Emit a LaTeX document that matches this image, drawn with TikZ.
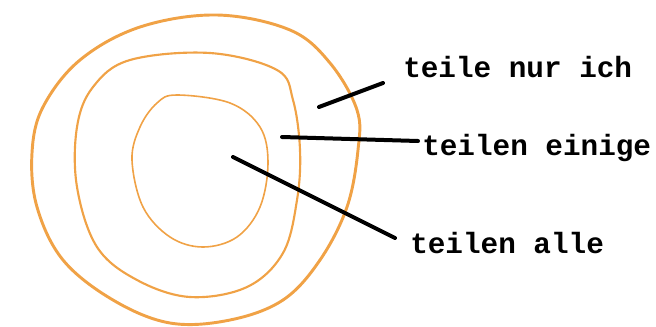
\documentclass[tikz,border=0pt]{standalone}
\usepackage{fontspec}
\newfontfamily\tw{Liberation Mono}
\definecolor{ring}{RGB}{240,162,70}
\begin{document}
\begin{tikzpicture}[x=0.75pt,y=-0.75pt,
  ringline/.style={draw=ring, line cap=round, line join=round},
  pointer/.style={draw=black, line width=3pt, line cap=round},
  lbl/.style={anchor=base west, inner sep=0pt, font=\tw\bfseries\fontsize{22}{24}\selectfont}]
\useasboundingbox (0,0) rectangle (656,326);
% outer loop
\draw[ringline, line width=2.2pt] plot[smooth cycle, tension=0.6] coordinates {
 (217,15) (290,30) (330,63) (357,110) (358,150) (347,207) (320,260) (283,300)
 (230,320) (170,323) (113,300) (63,260) (37,207) (32,153) (43,107) (80,60) (140,27)};
% middle loop
\draw[ringline, line width=1.6pt] plot[smooth cycle, tension=0.6] coordinates {
 (210,53) (277,70) (293,100) (300,150) (297,200) (283,253) (247,287) (190,297)
 (137,280) (97,247) (77,187) (77,127) (93,87) (130,60)};
% inner loop
\draw[ringline, line width=1.2pt] plot[smooth cycle, tension=0.6] coordinates {
 (177,95) (230,103) (260,127) (268,163) (260,207) (237,237) (203,247) (170,237)
 (143,207) (132,160) (140,127) (157,103)};
% labels
\node[lbl] (l1) at (403,77) {teile nur ich};
\node[lbl] (l2) at (422,155) {teilen einige};
\node[lbl] (l3) at (410,253) {teilen alle};
% pointer ends
\coordinate (p1) at (319,107);
\coordinate (q1) at (383,83);
\coordinate (p2) at (282,137);
\coordinate (q2) at (418,141);
\coordinate (p3) at (233,157);
\coordinate (q3) at (395,238);
\draw[pointer] (p1) -- (q1);
\draw[pointer] (p2) -- (q2);
\draw[pointer] (p3) -- (q3);
\end{tikzpicture}
\end{document}
